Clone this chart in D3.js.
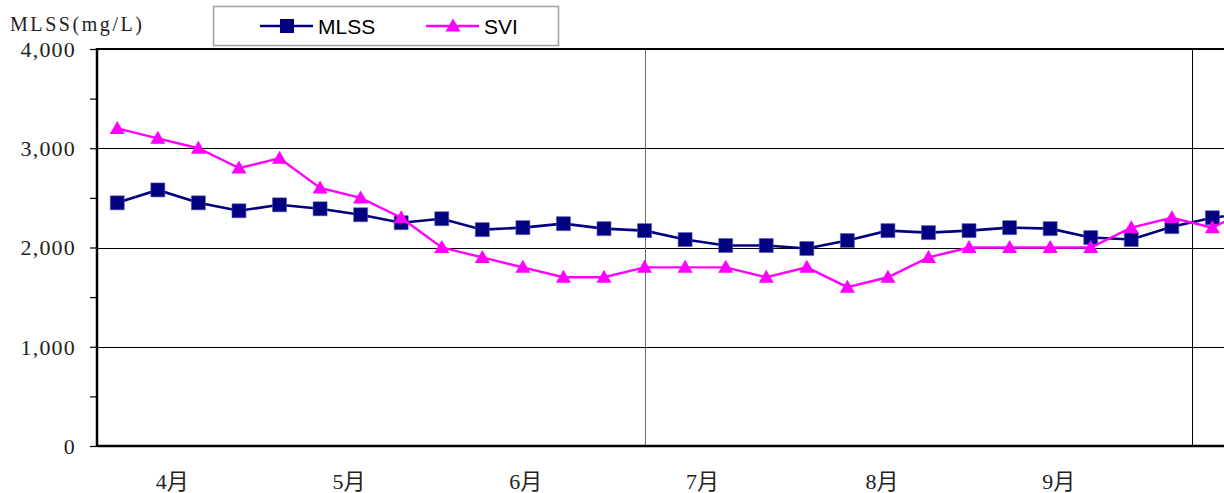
<!DOCTYPE html>
<html>
<head>
<meta charset="utf-8">
<script src="https://cdn.jsdelivr.net/npm/d3@7"></script>
<style>
  html, body { margin: 0; padding: 0; background: #fff; overflow: hidden; }
  svg { display: block; }
</style>
</head>
<body>
<svg id="chart" width="1224" height="493"></svg>
<script>
// Weekly sampling dates (start of each week)
const sampleDates = [
  "2009-04-06", "2009-04-13", "2009-04-20", "2009-04-27",
  "2009-05-04", "2009-05-11", "2009-05-18", "2009-05-25",
  "2009-06-01", "2009-06-08", "2009-06-15", "2009-06-22", "2009-06-29",
  "2009-07-06", "2009-07-13", "2009-07-20", "2009-07-27",
  "2009-08-03", "2009-08-10", "2009-08-17", "2009-08-24", "2009-08-31",
  "2009-09-07", "2009-09-14", "2009-09-21", "2009-09-28",
  "2009-10-05", "2009-10-12", "2009-10-19"
];

// MLSS (mg/L)
const mlssValues = [
  2450, 2580, 2450, 2370, 2430, 2390, 2330, 2250, 2290, 2180,
  2200, 2240, 2190, 2170, 2080, 2020, 2020, 1990, 2070, 2170,
  2150, 2170, 2200, 2190, 2100, 2080, 2210, 2300, 2350
];

// SVI (mL/g), secondary scale 0–400
const sviValues = [
  320, 310, 300, 280, 290, 260, 250, 230, 200, 190,
  180, 170, 170, 180, 180, 180, 170, 180, 160, 170,
  190, 200, 200, 200, 200, 220, 230, 220, 240
];

// Month labels along the bottom
const monthLabels = ["4月", "5月", "6月", "7月", "8月", "9月"];
const monthStarts = ["2009-04-01", "2009-05-01", "2009-06-01", "2009-07-01", "2009-08-01", "2009-09-01"];

// Left axis ticks
const yTickValues = [0, 500, 1000, 1500, 2000, 2500, 3000, 3500, 4000];
const yGridValues = [1000, 2000, 3000];

// Vertical divider positions, in weeks after the first sample
const dividerWeeks = [13, 26.5];

const parse = d3.timeParse("%Y-%m-%d");
const dates = sampleDates.map(parse);

const svg = d3.select("#chart");
const W = 1224, H = 493;
const plotLeft = 97, plotTop = 49, plotBottom = 446;
const step = 40.56;
const plotRight = plotLeft + dates.length * step;

const x = d3.scaleTime()
  .domain([d3.timeHour.offset(dates[0], -84), d3.timeHour.offset(dates[dates.length - 1], 84)])
  .range([plotLeft, plotRight]);

const y = d3.scaleLinear().domain([0, 4000]).range([plotBottom, plotTop]);
const ySvi = d3.scaleLinear().domain([0, 400]).range([plotBottom, plotTop]);

svg.append("rect").attr("width", W).attr("height", H).attr("fill", "#fff");

// Horizontal gridlines
svg.append("g")
  .selectAll("line")
  .data(yGridValues)
  .join("line")
  .attr("x1", plotLeft).attr("x2", plotRight)
  .attr("y1", d => Math.round(y(d)) + 0.5).attr("y2", d => Math.round(y(d)) + 0.5)
  .attr("stroke", "#000").attr("stroke-width", 1);

// Vertical dividers
svg.append("g")
  .selectAll("line")
  .data(dividerWeeks)
  .join("line")
  .attr("x1", d => Math.round(x(d3.timeHour.offset(dates[0], d * 168))) + 0.5)
  .attr("x2", d => Math.round(x(d3.timeHour.offset(dates[0], d * 168))) + 0.5)
  .attr("y1", plotTop).attr("y2", plotBottom)
  .attr("stroke", (d, i) => i === 0 ? "#6e6e6e" : "#000").attr("stroke-width", 1);

// Plot frame: top, left, bottom
const frame = svg.append("g").attr("stroke", "#000").attr("fill", "none");
frame.append("line").attr("x1", plotLeft).attr("x2", plotRight)
  .attr("y1", plotTop).attr("y2", plotTop).attr("stroke-width", 2);
frame.append("line").attr("x1", plotLeft).attr("x2", plotLeft)
  .attr("y1", plotTop - 1).attr("y2", plotBottom + 1).attr("stroke-width", 2.5);
frame.append("line").attr("x1", plotLeft).attr("x2", plotRight)
  .attr("y1", plotBottom).attr("y2", plotBottom).attr("stroke-width", 2.5);

// Left axis
const yAxis = d3.axisLeft(y)
  .tickValues(yTickValues)
  .tickSize(6)
  .tickPadding(14)
  .tickFormat(d => d % 1000 === 0 ? d3.format(",")(d) : "");

const gy = svg.append("g")
  .attr("transform", `translate(${plotLeft - 1},0)`)
  .call(yAxis);
gy.select(".domain").remove();
gy.selectAll(".tick line").attr("stroke", "#000").attr("stroke-width", 1.2);
gy.selectAll(".tick text")
  .attr("fill", "#222")
  .attr("font-family", "'Liberation Serif', 'DejaVu Serif', serif")
  .attr("font-size", 22)
  .attr("letter-spacing", 1.2)
  .attr("dy", "0.33em");

// Axis title
svg.append("text")
  .attr("x", 10).attr("y", 31)
  .attr("font-family", "'Liberation Serif', 'DejaVu Serif', serif")
  .attr("font-size", 20)
  .attr("fill", "#222")
  .attr("textLength", 132)
  .attr("lengthAdjust", "spacing")
  .text("MLSS(mg/L)");

// Month labels centred on each month
svg.append("g")
  .selectAll("text")
  .data(monthLabels)
  .join("text")
  .attr("x", (d, i) => {
    const s = parse(monthStarts[i]);
    const e = d3.timeMonth.offset(s, 1);
    return x(new Date((+s + +e) / 2)) - 3;
  })
  .attr("y", 489)
  .attr("text-anchor", "middle")
  .attr("font-family", "'Liberation Serif', 'Noto Sans CJK JP', serif")
  .attr("font-size", 22)
  .attr("fill", "#222")
  .text(d => d);

// Series
const mlssColor = "#000080";
const sviColor = "#ff00ff";

const plot = svg.append("g");

plot.append("path")
  .datum(mlssValues)
  .attr("fill", "none")
  .attr("stroke", mlssColor)
  .attr("stroke-width", 2.6)
  .attr("d", d3.line().x((d, i) => x(dates[i])).y(d => y(d)));

plot.append("g")
  .selectAll("path")
  .data(mlssValues)
  .join("path")
  .attr("transform", (d, i) => `translate(${x(dates[i])},${y(d)})`)
  .attr("d", d3.symbol(d3.symbolSquare, 196))
  .attr("fill", mlssColor)
  .attr("stroke", "#5a5ab0")
  .attr("stroke-width", 0.6);

plot.append("path")
  .datum(sviValues)
  .attr("fill", "none")
  .attr("stroke", sviColor)
  .attr("stroke-width", 2.4)
  .attr("d", d3.line().x((d, i) => x(dates[i])).y(d => ySvi(d)));

const tri = d3.path();
tri.moveTo(0, -7.5); tri.lineTo(7.5, 5.5); tri.lineTo(-7.5, 5.5); tri.closePath();

plot.append("g")
  .selectAll("path")
  .data(sviValues)
  .join("path")
  .attr("transform", (d, i) => `translate(${x(dates[i])},${ySvi(d)})`)
  .attr("d", tri.toString())
  .attr("fill", sviColor);

// Legend
const legend = svg.append("g");
legend.append("rect")
  .attr("x", 213.5).attr("y", 6.5).attr("width", 345).attr("height", 39)
  .attr("fill", "#fff").attr("stroke", "#a0a0a0").attr("stroke-width", 1.5);

const legendItems = [
  { name: "MLSS", color: mlssColor, x0: 260, kind: "square" },
  { name: "SVI", color: sviColor, x0: 426, kind: "triangle" }
];
const li = legend.selectAll("g.item").data(legendItems).join("g").attr("class", "item");
li.append("line")
  .attr("x1", d => d.x0).attr("x2", d => d.x0 + 53)
  .attr("y1", 26).attr("y2", 26)
  .attr("stroke", d => d.color).attr("stroke-width", 2.4);
li.append("path")
  .attr("transform", d => `translate(${d.x0 + 27},26)`)
  .attr("d", d => d.kind === "square" ? d3.symbol(d3.symbolSquare, 196)() : tri.toString())
  .attr("fill", d => d.color);
li.append("text")
  .attr("x", d => d.x0 + 58).attr("y", 34)
  .attr("font-family", "'Liberation Sans', Arial, sans-serif")
  .attr("font-size", 21)
  .attr("fill", "#000")
  .text(d => d.name);
</script>
</body>
</html>
